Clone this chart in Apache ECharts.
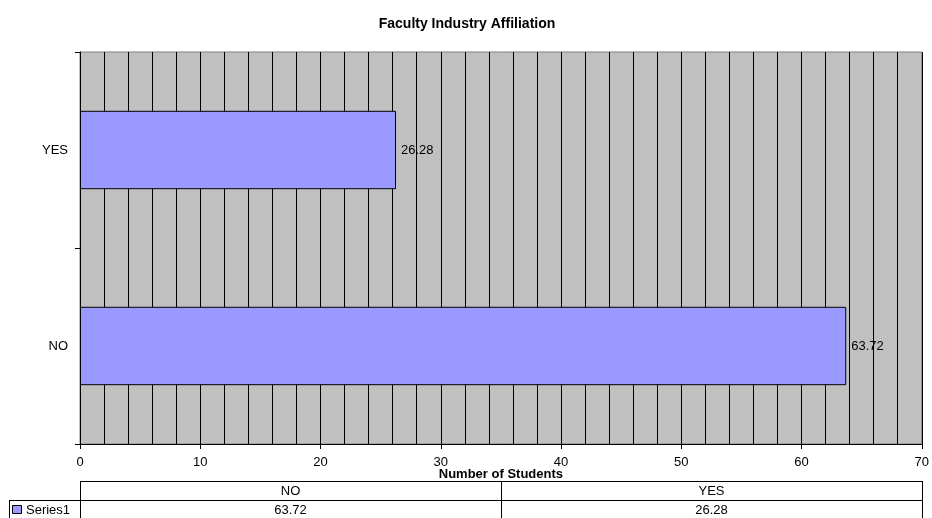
<!DOCTYPE html>
<html>
<head>
<meta charset="utf-8">
<style>
  html, body { margin: 0; padding: 0; background: #ffffff; }
  #chart { width: 932px; height: 518px; }
</style>
<script src="https://cdn.jsdelivr.net/npm/echarts@6/dist/echarts.min.js"></script>
</head>
<body>
<div id="chart"></div>
<script>
// Faculty industry affiliation: share of students by answer
const categories = ['NO', 'YES'];
const values = [63.72, 26.28];
const seriesName = 'Series1';
const chartTitle = 'Faculty Industry Affiliation';
const xAxisTitle = 'Number of Students';

const FONT = '"Liberation Sans", Arial, sans-serif';
const FS = 13;
const BAR_COLOR = '#9999FF';
const PLOT_BG = '#C0C0C0';

// plot area (pixels)
const G = { left: 80, right: 10, top: 52, bottom: 74 };
const W = 932, H = 518;
const plotRight = W - G.right;

// data table under the plot
const tableTop = 481, rowH = 19, labelColLeft = 9;

function tableGraphics() {
  const els = [];
  const plotW = plotRight - G.left;
  const colW = plotW / categories.length;
  const lineStyle = { stroke: '#000', lineWidth: 1 };
  const line = (x1, y1, x2, y2) => ({
    type: 'line', silent: true,
    shape: { x1, y1, x2, y2 }, style: lineStyle
  });
  // frame of the header and value rows
  els.push(line(G.left + 0.5, tableTop + 0.5, plotRight + 0.5, tableTop + 0.5));
  els.push(line(labelColLeft + 0.5, tableTop + rowH + 0.5, plotRight + 0.5, tableTop + rowH + 0.5));
  els.push(line(G.left + 0.5, tableTop, G.left + 0.5, H));
  els.push(line(plotRight + 0.5, tableTop, plotRight + 0.5, H));
  els.push(line(labelColLeft + 0.5, tableTop + rowH, labelColLeft + 0.5, H));
  for (let i = 1; i < categories.length; i++) {
    const x = Math.round(G.left + colW * i) + 0.5;
    els.push(line(x, tableTop, x, H));
  }
  categories.forEach((c, i) => {
    const cx = G.left + colW * (i + 0.5);
    els.push({
      type: 'text', silent: true, x: cx, y: tableTop + rowH / 2 + 1,
      style: { text: c, font: FS + 'px ' + FONT, fill: '#000', align: 'center', verticalAlign: 'middle' }
    });
    els.push({
      type: 'text', silent: true, x: cx, y: tableTop + rowH * 1.5 + 1,
      style: { text: values[i].toFixed(2), font: FS + 'px ' + FONT, fill: '#000', align: 'center', verticalAlign: 'middle' }
    });
  });
  // legend key in the row header
  els.push({
    type: 'rect', silent: true,
    shape: { x: 12.5, y: tableTop + rowH + 5.5, width: 9, height: 8 },
    style: { fill: BAR_COLOR, stroke: '#000', lineWidth: 1 }
  });
  els.push({
    type: 'text', silent: true, x: 26, y: tableTop + rowH * 1.5 + 1,
    style: { text: seriesName, font: FS + 'px ' + FONT, fill: '#000', align: 'left', verticalAlign: 'middle' }
  });
  return els;
}

const chart = echarts.init(document.getElementById('chart'), null, { renderer: 'canvas' });
chart.setOption({
  animation: false,
  backgroundColor: '#ffffff',
  title: {
    text: chartTitle,
    left: 462, top: 12, textAlign: 'center',
    textStyle: { fontFamily: FONT, fontSize: 14, fontWeight: 'bold', color: '#000' }
  },
  grid: {
    left: G.left, right: G.right, top: G.top, bottom: G.bottom,
    show: true, backgroundColor: PLOT_BG, borderColor: '#808080', borderWidth: 1,
    containLabel: false
  },
  xAxis: {
    type: 'value', min: 0, max: 70, interval: 10,
    name: xAxisTitle, nameLocation: 'middle', nameGap: 24, nameMoveOverlap: false,
    nameTextStyle: { fontFamily: FONT, fontSize: FS, fontWeight: 'bold', color: '#000' },
    axisLine: { show: true, lineStyle: { color: '#000', width: 1 } },
    axisTick: { show: true, length: 5, lineStyle: { color: '#000' } },
    axisLabel: { fontFamily: FONT, fontSize: FS, color: '#000', margin: 12 },
    splitLine: { show: true, lineStyle: { color: '#000', width: 1 } },
    minorTick: { show: false, splitNumber: 5 },
    minorSplitLine: { show: true, lineStyle: { color: '#000', width: 1 } }
  },
  yAxis: {
    type: 'category', data: categories,
    axisLine: { show: true, lineStyle: { color: '#000', width: 1 } },
    axisTick: { show: true, length: 5, lineStyle: { color: '#000' } },
    axisLabel: { fontFamily: FONT, fontSize: FS, color: '#000', margin: 12 },
    splitLine: { show: false }
  },
  series: [{
    name: seriesName,
    type: 'bar',
    data: values,
    barCategoryGap: '60%',
    itemStyle: { color: BAR_COLOR, borderColor: '#000', borderWidth: 1 },
    label: {
      show: true, position: 'right', distance: 5,
      fontFamily: FONT, fontSize: FS, color: '#000',
      formatter: p => p.value.toFixed(2)
    }
  }],
  graphic: tableGraphics()
});
</script>
</body>
</html>
